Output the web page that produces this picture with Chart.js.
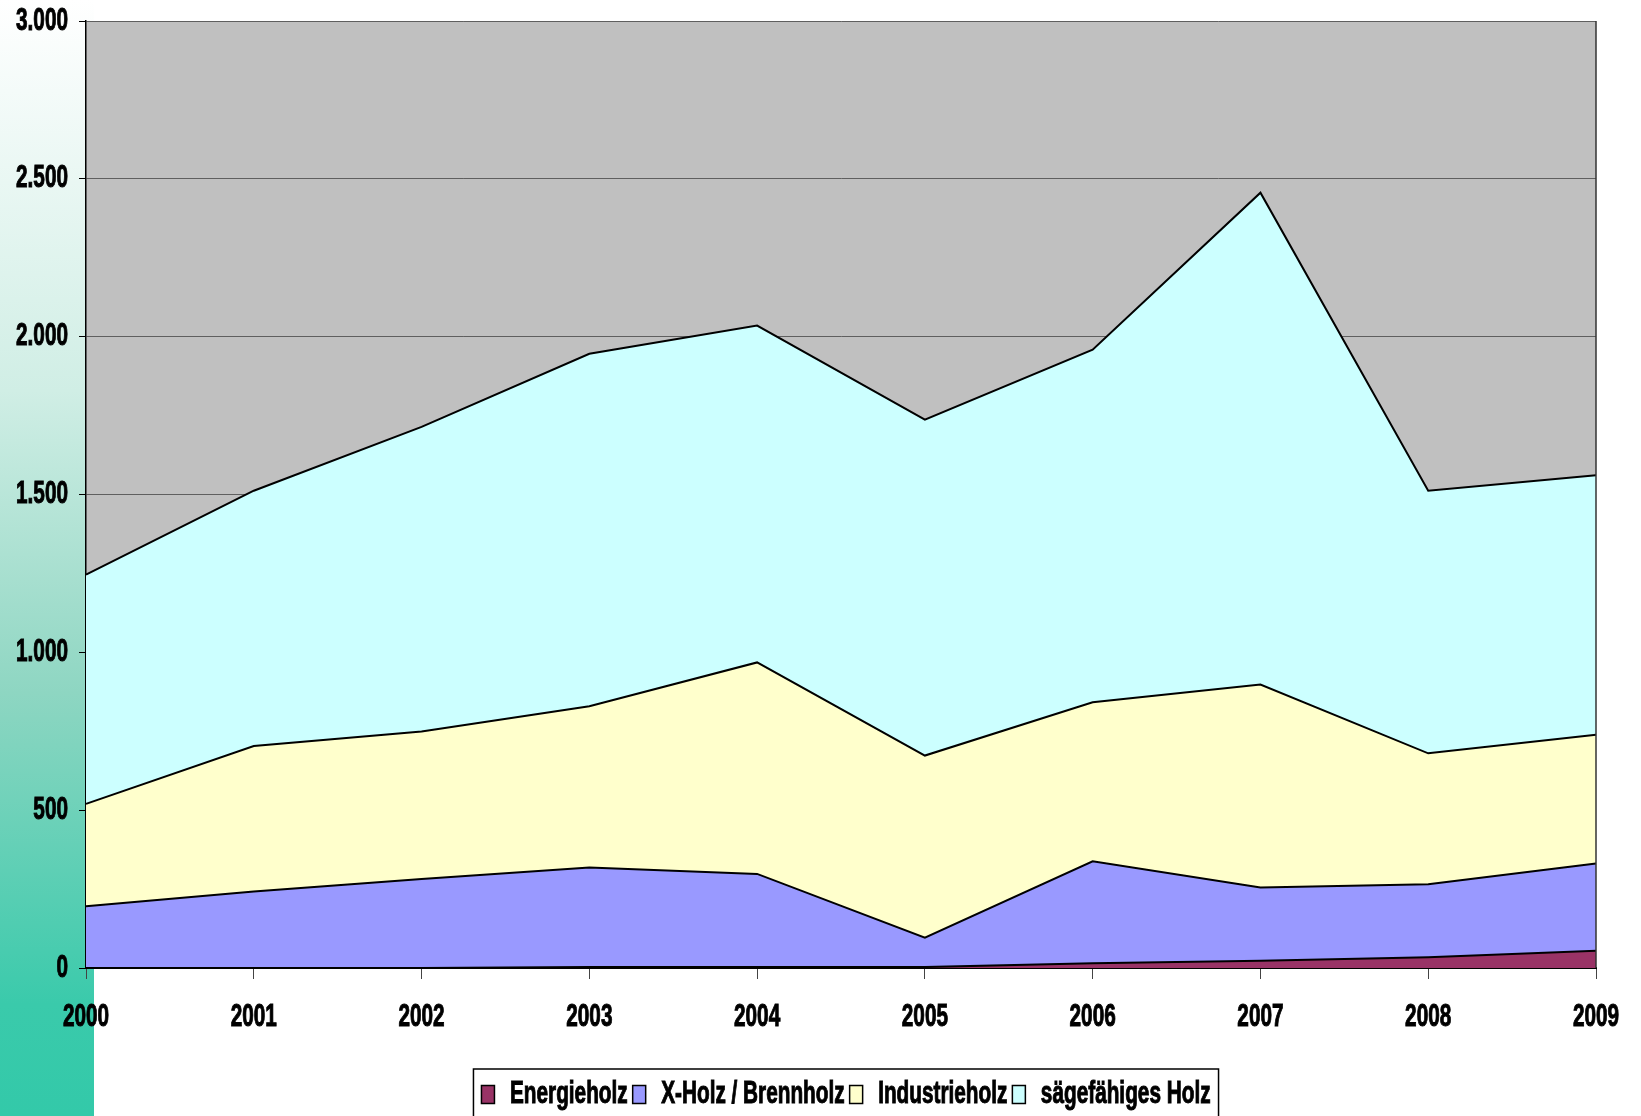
<!DOCTYPE html>
<html>
<head>
<meta charset="utf-8">
<script src="https://cdn.jsdelivr.net/npm/chart.js@4/dist/chart.umd.min.js"></script>
<style>
  html, body { margin: 0; padding: 0; background: #fff; }
  #wrap { width: 1641px; height: 1116px; }
</style>
</head>
<body>
<div id="wrap"><canvas id="holzChart" width="1641" height="1116"></canvas></div>
<script>
const years = ["2000", "2001", "2002", "2003", "2004", "2005", "2006", "2007", "2008", "2009"];

// Werte je Sortiment (gestapelt)
const energieholz   = [0, 0, 0, 3, 3, 3, 15, 23, 34, 55];
const xHolz         = [196, 242, 282, 315, 295, 93, 323, 232, 231, 276];
const industrieholz = [324, 461, 467, 511, 670, 577, 504, 643, 415, 408];
const saegeholz     = [726, 809, 965, 1117, 1067, 1064, 1117, 1558, 832, 822];

const yTicks = [0, 500, 1000, 1500, 2000, 2500, 3000];

const fontFam = "'Liberation Sans', Arial, sans-serif";
// no narrow font installed -> squeeze text horizontally
const squeeze = 0.67;

function fmt(v) {
    return String(v).replace(/\B(?=(\d{3})+(?!\d))/g, '.');
}

// background: left teal strip + grey plot area
const backdrop = {
    id: 'backdrop',
    afterLayout(chart) {
        // legend sits a bit right of centre in the original
        const lg = chart.legend;
        if (!lg) return;
        lg.left += 48;
        lg.right += 48;
        lg.top += 4;
        lg.bottom += 4;
    },
    beforeDraw(chart) {
        const ctx = chart.ctx;
        const a = chart.chartArea;
        ctx.save();
        ctx.fillStyle = '#ffffff';
        ctx.fillRect(0, 0, chart.width, chart.height);
        const g = ctx.createLinearGradient(0, 0, 0, chart.height);
        g.addColorStop(0, '#ffffff');
        g.addColorStop(0.35, '#d0eee5');
        g.addColorStop(0.62, '#8ed6c2');
        g.addColorStop(0.9, '#3acaab');
        g.addColorStop(1, '#33c9a9');
        ctx.fillStyle = g;
        ctx.fillRect(0, 0, 94, chart.height);
        ctx.fillStyle = '#c0c0c0';
        ctx.fillRect(a.left, a.top, a.right - a.left, a.bottom - a.top);
        ctx.restore();
    },
    afterDatasetsDraw(chart) {
        const ctx = chart.ctx;
        const a = chart.chartArea;
        ctx.save();
        ctx.strokeStyle = '#333';
        ctx.lineWidth = 1.5;
        ctx.beginPath();
        ctx.moveTo(a.right, a.top);
        ctx.lineTo(a.right, a.bottom);
        ctx.stroke();
        ctx.restore();
    },
    afterDraw(chart) {
        const lg = chart.legend;
        if (!lg || !lg.legendHitBoxes.length) return;
        const hb = lg.legendHitBoxes;
        const left = Math.min(...hb.map(h => h.left)) - 8;
        const right = Math.max(...hb.map(h => h.left + h.width)) + 8;
        const top = hb[0].top - 10;
        const ctx = chart.ctx;
        ctx.save();
        ctx.strokeStyle = '#000';
        ctx.lineWidth = 1.5;
        ctx.strokeRect(left, top, right - left, chart.height - top + 5);
        ctx.restore();
    }
};

const ctx = document.getElementById('holzChart').getContext('2d');

const rawFill = ctx.fillText.bind(ctx);
const rawStroke = ctx.strokeText.bind(ctx);
const rawMeasure = ctx.measureText.bind(ctx);
ctx.fillText = function (t, x, y) {
    ctx.save();
    ctx.translate(x, y);
    ctx.scale(squeeze, 1);
    rawFill(t, 0, 0);
    // a little extra weight, like the original heavy narrow font
    ctx.lineWidth = 1;
    ctx.strokeStyle = ctx.fillStyle;
    rawStroke(t, 0, 0);
    ctx.restore();
};
ctx.measureText = function (t) {
    const m = rawMeasure(t);
    return {
        width: m.width * squeeze,
        actualBoundingBoxAscent: m.actualBoundingBoxAscent,
        actualBoundingBoxDescent: m.actualBoundingBoxDescent,
        actualBoundingBoxLeft: m.actualBoundingBoxLeft * squeeze,
        actualBoundingBoxRight: m.actualBoundingBoxRight * squeeze
    };
};

new Chart(ctx, {
    type: 'line',
    data: {
        labels: years,
        datasets: [{
            label: 'Energieholz',
            data: energieholz,
            backgroundColor: '#993366',
            fill: 'origin'
        }, {
            label: 'X-Holz / Brennholz',
            data: xHolz,
            backgroundColor: '#9999ff',
            fill: '-1'
        }, {
            label: 'Industrieholz',
            data: industrieholz,
            backgroundColor: '#ffffcc',
            fill: '-1'
        }, {
            label: 'sägefähiges Holz',
            data: saegeholz,
            backgroundColor: '#ccffff',
            fill: '-1'
        }]
    },
    options: {
        responsive: false,
        devicePixelRatio: 1,
        animation: false,
        layout: {
            padding: { left: 0, right: 45, top: 21, bottom: 0 }
        },
        elements: {
            line: { borderColor: '#000', borderWidth: 2, tension: 0 },
            point: { radius: 0 }
        },
        plugins: {
            tooltip: { enabled: false },
            legend: {
                position: 'bottom',
                labels: {
                    color: '#000',
                    font: { family: fontFam, size: 31, weight: 'bold' },
                    boxWidth: 13,
                    boxHeight: 18,
                    padding: 5,
                    generateLabels(chart) {
                        return chart.data.datasets.map((ds, i) => ({
                            text: ds.label,
                            fillStyle: ds.backgroundColor,
                            strokeStyle: '#000',
                            lineWidth: 1.5,
                            datasetIndex: i
                        }));
                    }
                }
            }
        },
        scales: {
            x: {
                offset: false,
                grid: {
                    drawOnChartArea: false,
                    drawTicks: true,
                    tickLength: 11,
                    tickColor: '#444'
                },
                border: { color: '#000', width: 2 },
                ticks: {
                    color: '#000',
                    padding: 20,
                    maxRotation: 0,
                    font: { family: fontFam, size: 31, weight: 'bold' }
                },
                afterFit(scale) {
                    const lh = scale.chart.legend ? scale.chart.legend.height : 0;
                    scale.height = scale.chart.height - 968 - lh;
                    scale.paddingLeft = 0;
                    scale.paddingRight = 0;
                }
            },
            y: {
                stacked: true,
                min: 0,
                max: 3000,
                afterBuildTicks(scale) {
                    scale.ticks = yTicks.map(v => ({ value: v }));
                },
                grid: {
                    color: '#5f5f5f',
                    lineWidth: 1,
                    drawTicks: true,
                    tickLength: 7,
                    tickColor: '#000'
                },
                border: { color: '#000', width: 1.5 },
                ticks: {
                    color: '#000',
                    padding: 11,
                    font: { family: fontFam, size: 31, weight: 'bold' },
                    callback: v => fmt(v)
                },
                afterFit(scale) {
                    scale.width = 86;
                    scale.paddingTop = 0;
                    scale.paddingBottom = 0;
                }
            }
        }
    },
    plugins: [backdrop]
});
</script>
</body>
</html>
